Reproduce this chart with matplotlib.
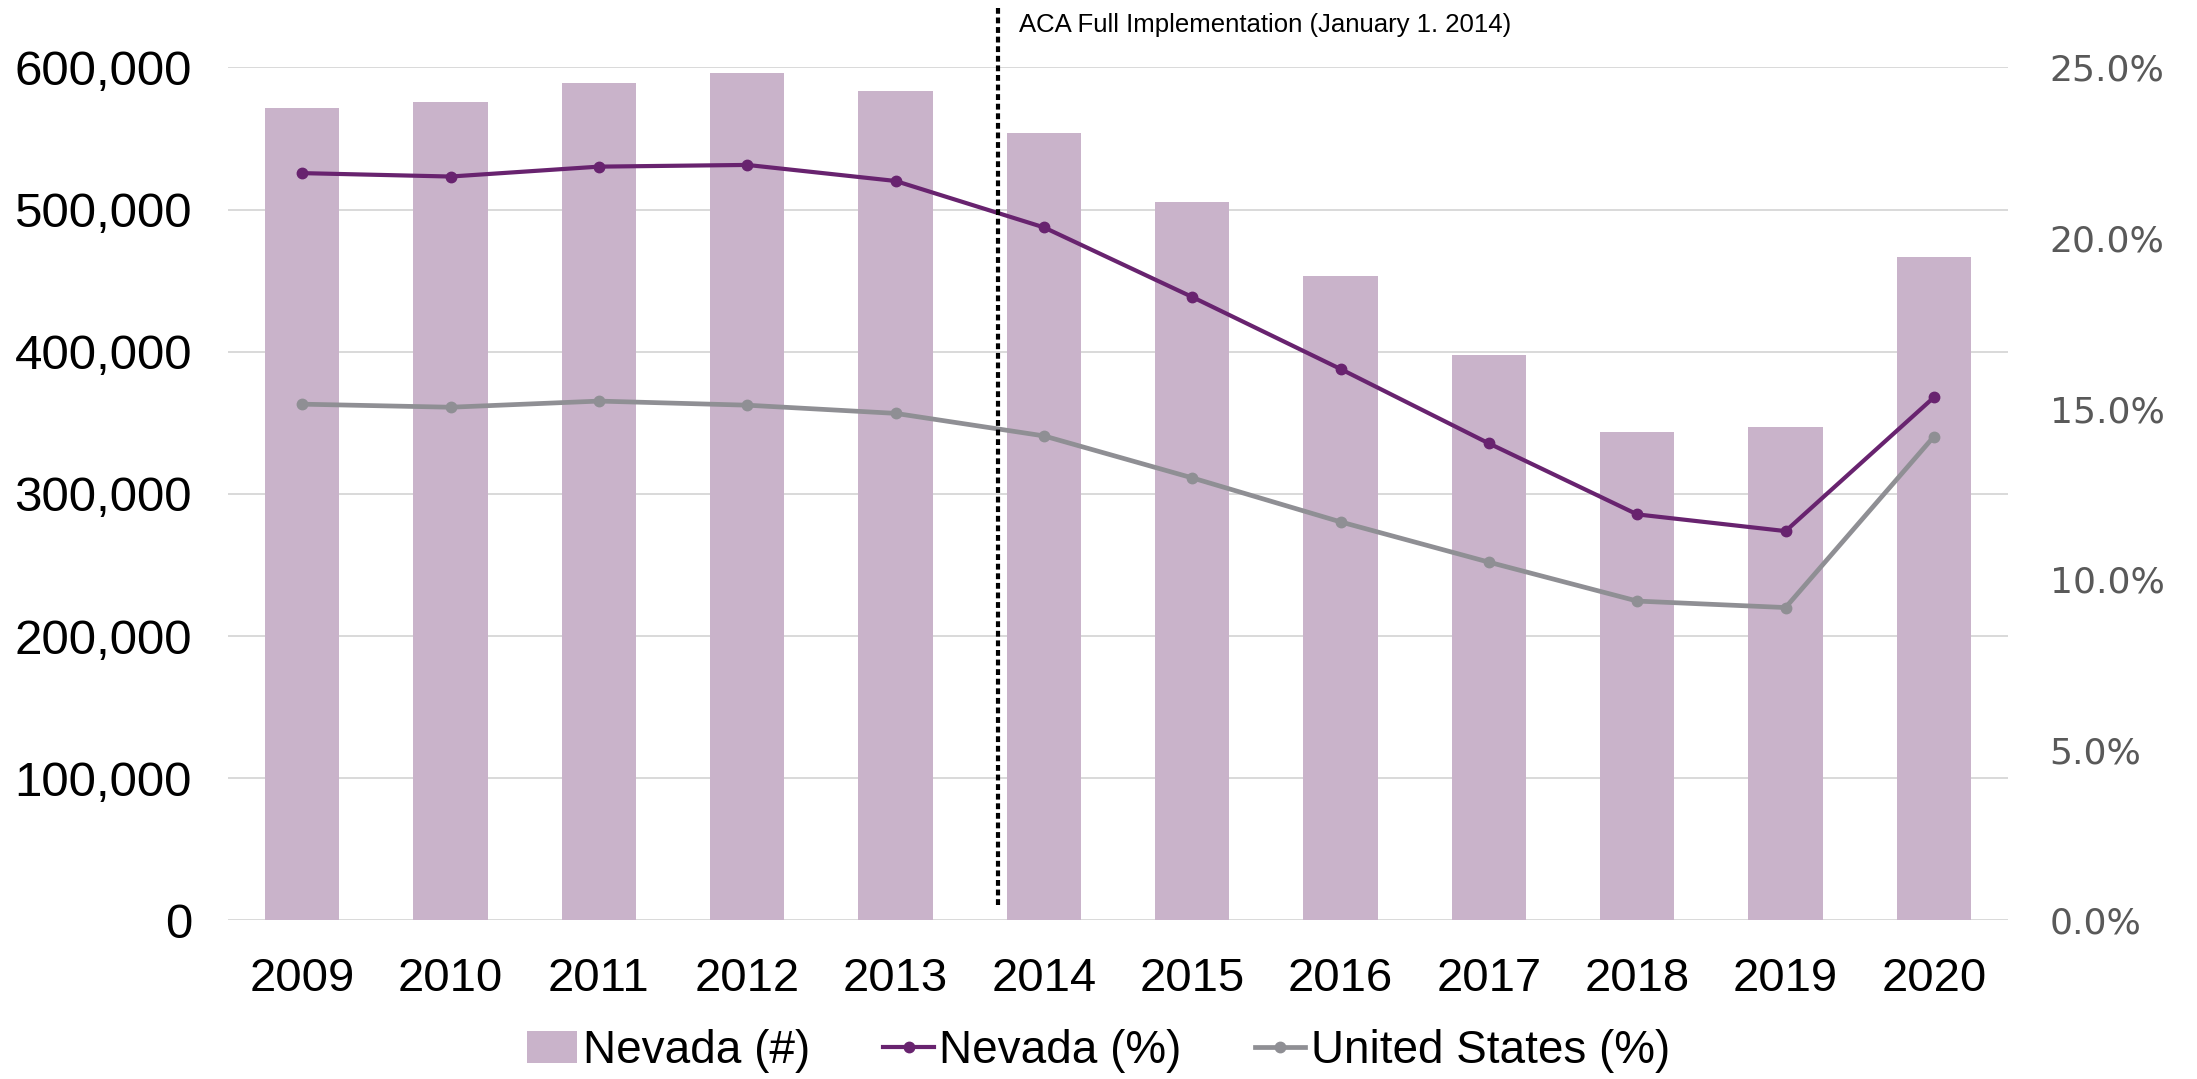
#!/usr/bin/env python

""" Nevada uninsured: count (bars) and rate vs US (lines), 2009-2020 """

import numpy as np
import matplotlib
matplotlib.use("Agg")
import matplotlib.pyplot as plt
from matplotlib.ticker import FuncFormatter

years = ["2009", "2010", "2011", "2012", "2013", "2014",
         "2015", "2016", "2017", "2018", "2019", "2020"]
nevada_count = [571200, 575800, 589200, 596000, 583500, 553700,
                505400, 453200, 397600, 343800, 347000, 466700]
nevada_pct = [21.90, 21.80, 22.09, 22.14, 21.67, 20.31,
              18.27, 16.16, 13.98, 11.90, 11.41, 15.33]
us_pct = [15.13, 15.04, 15.22, 15.10, 14.86, 14.20,
          12.97, 11.68, 10.50, 9.36, 9.17, 14.18]

aca_pos = 4.69
aca_label = "ACA Full Implementation (January 1. 2014)"

BAR = "#C9B3CA"
PURPLE = "#68236F"
GREY = "#8F8F94"


def main():

    plt.rcParams['font.family'] = ["Liberation Sans", "DejaVu Sans"]

    fig = plt.figure(figsize=(21.97, 10.79), dpi=100)
    ax = fig.add_axes([0.1038, 0.1469, 0.8102, 0.7907])
    ax2 = ax.twinx()

    x = np.arange(len(years))

    bars = ax.bar(x, nevada_count, width=0.5, color=BAR,
                  label="Nevada (#)", zorder=2)
    ax.set_xlim(-0.5, len(years) - 0.5)
    ax.set_ylim(0, 600000)
    ax.set_yticks(np.arange(0, 600001, 100000))
    ax.yaxis.set_major_formatter(FuncFormatter(lambda v, p: f"{int(v):,}"))
    ax.set_xticks(x)
    ax.set_xticklabels(years)
    ax.grid(axis="y", color="#D9D9D9", lw=1.4)
    ax.set_axisbelow(True)
    ax.tick_params(axis="x", length=0, pad=26, labelsize=34)
    ax.tick_params(axis="y", length=0, pad=26, labelsize=35.5)

    l1, = ax2.plot(x, np.array(nevada_pct) / 100, "-o", color=PURPLE,
                   lw=3.0, ms=7.5, label="Nevada (%)", zorder=4)
    l2, = ax2.plot(x, np.array(us_pct) / 100, "-o", color=GREY,
                   lw=3.4, ms=7.5, label="United States (%)", zorder=3)
    ax2.set_ylim(0, 0.25)
    ax2.set_yticks(np.arange(0, 0.2501, 0.05))
    ax2.yaxis.set_major_formatter(FuncFormatter(lambda v, p: f"{v*100:.1f}%"))
    ax2.tick_params(axis="y", length=0, pad=30, labelsize=26,
                    labelcolor="#595959")
    for lab in ax2.get_yticklabels():
        lab.set_family("DejaVu Sans")

    for a in (ax, ax2):
        for s in a.spines.values():
            s.set_visible(False)

    # ACA marker line, drawn over the lines, extends above the plot
    ax2.plot([aca_pos, aca_pos], [11000, 642000], transform=ax.transData,
             color="black", lw=3.0, ls=(0, (1.4, 0.9)), clip_on=False,
             zorder=6)
    ax2.text(aca_pos + 0.14, 630000, aca_label, transform=ax.transData,
             fontsize=18.5, va="center", ha="left", clip_on=False)

    fig.legend(handles=[bars, l1, l2], loc="center",
               bbox_to_anchor=(0.5, 0.026), ncol=3, frameon=False,
               fontsize=33, handlelength=1.1, handletextpad=0.12,
               columnspacing=1.6, borderaxespad=0)

    fig.savefig("out.png", dpi=100)

if __name__ == "__main__":

    main()
